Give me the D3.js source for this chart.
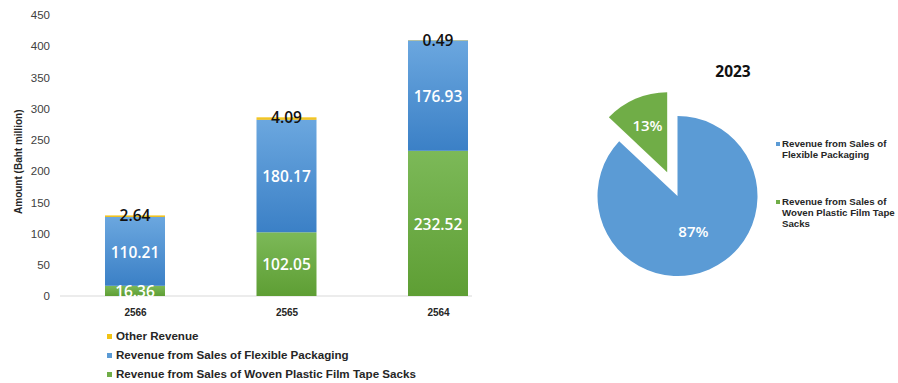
<!DOCTYPE html>
<html><head><meta charset="utf-8">
<script src="https://cdn.jsdelivr.net/npm/d3@7"></script>
<style>body{margin:0;background:#fff}svg{display:block}</style>
</head><body>
<svg id="c" width="898" height="383"></svg>
<script>
const years = ["2566", "2565", "2564"];
const seriesNames = ["Revenue from Sales of Woven Plastic Film Tape Sacks", "Revenue from Sales of Flexible Packaging", "Other Revenue"];
const wovenValues = [16.36, 102.05, 232.52];
const flexibleValues = [110.21, 180.17, 176.93];
const otherValues = [2.64, 4.09, 0.49];
const yTicks = [0, 50, 100, 150, 200, 250, 300, 350, 400, 450];
const pieTitle = "2023";
const pieLabels = ["Revenue from Sales of Flexible Packaging", "Revenue from Sales of Woven Plastic Film Tape Sacks"];
const pieValues = [87, 13];

const svg = d3.select("#c");
const defs = svg.append("defs");
function grad(id, c1, c2) {
  const g = defs.append("linearGradient").attr("id", id).attr("x1", 0).attr("y1", 0).attr("x2", 0).attr("y2", 1);
  g.append("stop").attr("offset", "0%").attr("stop-color", c1);
  g.append("stop").attr("offset", "100%").attr("stop-color", c2);
}
grad("gGreen", "#7cb958", "#5e9e34");
grad("gBlue", "#6ba7df", "#3b80c6");
grad("gYellow", "#f7d040", "#eab80e");
const fills = ["url(#gGreen)", "url(#gBlue)", "url(#gYellow)"];
const legendColors = ["#70ad47", "#5b9bd5", "#f2c314"];

const x = d3.scalePoint().domain(years).range([135, 438]);
const y = d3.scaleLinear().domain([0, 450]).range([296, 15]);

// baseline
svg.append("line").attr("x1", 60).attr("x2", 472).attr("y1", y(0)).attr("y2", y(0))
  .attr("stroke", "#d9d9d9").attr("stroke-width", 1);

// y axis labels
const yAxis = d3.axisLeft(y).tickValues(yTicks).tickSize(0).tickPadding(0);
const ya = svg.append("g").attr("transform", "translate(50,0)").call(yAxis);
ya.select(".domain").remove();
ya.selectAll("text").attr("font-family", "Liberation Sans, Arial, sans-serif").attr("font-size", 11.5).attr("fill", "#404040");

svg.append("text").attr("transform", `translate(22,${y(215)}) rotate(-90)`)
  .attr("text-anchor", "middle").attr("font-family", "Liberation Sans, Arial, sans-serif")
  .attr("font-weight", "bold").attr("font-size", 10).attr("fill", "#262626").text("Amount (Baht million)");

// x labels
const xa = svg.append("g").attr("transform", "translate(0,309)").call(d3.axisBottom(x).tickSize(0).tickPadding(0));
xa.select(".domain").remove();
xa.selectAll("text").attr("font-family", "Liberation Sans, Arial, sans-serif").attr("font-weight", "bold").attr("font-size", 10).attr("fill", "#262626");

// stacked data
const rows = years.map((yr, i) => ({year: yr, woven: wovenValues[i], flex: flexibleValues[i], other: otherValues[i]}));
const stack = d3.stack().keys(["woven", "flex", "other"])(rows);
const bw = 60;
stack.forEach((layer, li) => {
  svg.append("g").selectAll("rect").data(layer).join("rect")
    .attr("x", d => x(d.data.year) - bw / 2)
    .attr("width", bw)
    .attr("y", d => y(d[1]))
    .attr("height", d => y(d[0]) - y(d[1]))
    .attr("fill", fills[li]);
});
const numFont = "Open Sans, sans-serif";
// labels
stack.forEach((layer, li) => {
  svg.append("g").selectAll("text").data(layer).join("text")
    .attr("x", d => x(d.data.year))
    .attr("y", d => li === 2 ? y(d[1]) + 2 : (y(d[0]) + y(d[1])) / 2 + 2)
    .attr("dominant-baseline", "middle")
    .attr("text-anchor", "middle")
    .attr("font-family", numFont).attr("font-size", 15.5).attr("font-weight", 600)
    .attr("fill", li === 2 ? "#111" : "#fff")
    .text(d => (d[1] - d[0]).toFixed(2));
});

// bar legend
const leg = svg.append("g");
[2, 1, 0].forEach((si, k) => {
  const yy = 337 + k * 19;
  leg.append("rect").attr("x", 107).attr("y", yy - 3).attr("width", 5).attr("height", 5).attr("fill", legendColors[si]);
  leg.append("text").attr("x", 116).attr("y", yy).attr("dominant-baseline", "middle")
    .attr("font-family", "Liberation Sans, Arial, sans-serif").attr("font-weight", "bold").attr("font-size", 11.6)
    .attr("fill", "#262626").text(seriesNames[si]);
});

// pie
const cx = 677.5, cy = 196, r = 80;
const pie = d3.pie().sort(null).value(d => d)(pieValues);
const arc = d3.arc().innerRadius(0).outerRadius(r);
const pieColors = ["#5b9bd5", "#70ad47"];
const pg = svg.append("g").attr("transform", `translate(${cx},${cy})`);
const explode = [0, 26];
pie.forEach((p, i) => {
  const mid = (p.startAngle + p.endAngle) / 2;
  const dx = Math.sin(mid) * explode[i], dy = -Math.cos(mid) * explode[i];
  const g = pg.append("g").attr("transform", `translate(${dx},${dy})`);
  g.append("path").attr("d", arc(p)).attr("fill", pieColors[i]);
  const lr = i === 0 ? 0.5 * r : 0.62 * r;
  g.append("text").attr("x", Math.sin(mid) * lr).attr("y", -Math.cos(mid) * lr)
    .attr("text-anchor", "middle").attr("dominant-baseline", "middle")
    .attr("font-family", numFont).attr("font-size", 15).attr("font-weight", 600).attr("fill", "#fff")
    .text(pieValues[i] + "%");
});
svg.append("text").attr("x", 733).attr("y", 73).attr("text-anchor", "middle").attr("dominant-baseline", "middle")
  .attr("font-family", numFont).attr("font-weight", 700).attr("font-size", 15.5).attr("fill", "#111").text(pieTitle);

const pieLegLines = [["Revenue from Sales of", "Flexible Packaging"], ["Revenue from Sales of", "Woven Plastic Film Tape", "Sacks"]];
const pieLegY = [144, 202];
pieLegLines.forEach((lines, i) => {
  svg.append("rect").attr("x", 776).attr("y", pieLegY[i] - 2).attr("width", 4).attr("height", 4).attr("fill", pieColors[i]);
  const t = svg.append("text").attr("font-family", "Liberation Sans, Arial, sans-serif").attr("font-weight", "bold")
    .attr("font-size", 9.7).attr("fill", "#262626");
  lines.forEach((ln, j) => {
    t.append("tspan").attr("x", 782).attr("y", pieLegY[i] + j * 11.3).attr("dominant-baseline", "middle").text(ln);
  });
});
</script>
</body></html>
